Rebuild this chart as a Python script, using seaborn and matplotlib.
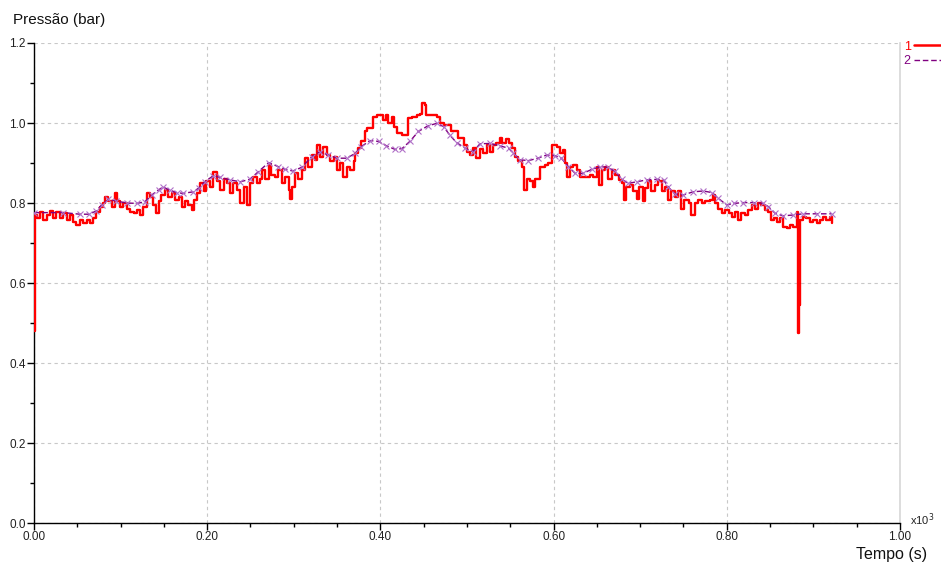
import pandas as pd
import matplotlib.pyplot as plt
import seaborn as sns
from matplotlib.lines import Line2D
from matplotlib.ticker import AutoMinorLocator, FormatStrFormatter

sns.set_theme(style="white")
plt.rcParams['font.family'] = ['Liberation Sans', 'DejaVu Sans']

# time in units of 10^3 s, pressure in bar
t1 = [0.000, 0.001, 0.003, 0.007, 0.011, 0.015, 0.018, 0.022, 0.026, 0.030,
      0.034, 0.038, 0.042, 0.045, 0.049, 0.053, 0.057, 0.061, 0.065, 0.068,
      0.072, 0.076, 0.080, 0.082, 0.086, 0.090, 0.094, 0.096, 0.099, 0.103,
      0.107, 0.111, 0.115, 0.119, 0.122, 0.126, 0.130, 0.134, 0.138, 0.141,
      0.144, 0.147, 0.151, 0.155, 0.159, 0.163, 0.167, 0.171, 0.174, 0.178,
      0.182, 0.185, 0.188, 0.192, 0.196, 0.199, 0.203, 0.207, 0.211, 0.215,
      0.219, 0.223, 0.226, 0.230, 0.234, 0.238, 0.242, 0.246, 0.249, 0.253,
      0.257, 0.261, 0.263, 0.267, 0.271, 0.274, 0.278, 0.282, 0.286, 0.290,
      0.294, 0.296, 0.298, 0.301, 0.305, 0.309, 0.313, 0.317, 0.321, 0.324,
      0.327, 0.330, 0.334, 0.338, 0.342, 0.346, 0.350, 0.353, 0.357, 0.361,
      0.365, 0.369, 0.371, 0.374, 0.378, 0.382, 0.384, 0.388, 0.392, 0.396,
      0.400, 0.403, 0.406, 0.409, 0.413, 0.416, 0.419, 0.425, 0.430, 0.432,
      0.436, 0.442, 0.446, 0.448, 0.452, 0.453, 0.459, 0.465, 0.469, 0.473,
      0.478, 0.482, 0.486, 0.490, 0.494, 0.496, 0.500, 0.503, 0.507, 0.511,
      0.515, 0.519, 0.523, 0.527, 0.530, 0.534, 0.538, 0.541, 0.545, 0.548,
      0.552, 0.555, 0.559, 0.563, 0.566, 0.569, 0.573, 0.576, 0.579, 0.582,
      0.584, 0.590, 0.594, 0.598, 0.604, 0.607, 0.611, 0.613, 0.616, 0.619,
      0.623, 0.627, 0.630, 0.634, 0.638, 0.642, 0.646, 0.650, 0.652, 0.656,
      0.659, 0.663, 0.667, 0.671, 0.675, 0.679, 0.681, 0.684, 0.688, 0.692,
      0.696, 0.699, 0.703, 0.706, 0.709, 0.713, 0.717, 0.721, 0.725, 0.729,
      0.732, 0.736, 0.740, 0.744, 0.747, 0.751, 0.756, 0.759, 0.763, 0.767,
      0.771, 0.775, 0.781, 0.784, 0.786, 0.790, 0.794, 0.798, 0.802, 0.806,
      0.809, 0.813, 0.817, 0.821, 0.825, 0.829, 0.833, 0.836, 0.840, 0.844,
      0.848, 0.851, 0.854, 0.858, 0.861, 0.865, 0.869, 0.873, 0.877, 0.881,
      0.882, 0.883, 0.885, 0.888, 0.892, 0.896, 0.900, 0.904, 0.908, 0.911,
      0.915, 0.919, 0.922]
p1 = [0.48, 0.77, 0.762, 0.778, 0.758, 0.770, 0.781, 0.762, 0.778, 0.762,
      0.774, 0.758, 0.770, 0.753, 0.745, 0.758, 0.749, 0.758, 0.749, 0.762,
      0.778, 0.791, 0.799, 0.816, 0.804, 0.791, 0.824, 0.804, 0.791, 0.799,
      0.786, 0.778, 0.774, 0.783, 0.770, 0.791, 0.824, 0.816, 0.795, 0.774,
      0.804, 0.820, 0.833, 0.816, 0.824, 0.808, 0.816, 0.791, 0.804, 0.795,
      0.783, 0.808, 0.824, 0.849, 0.829, 0.854, 0.841, 0.878, 0.854, 0.833,
      0.861, 0.849, 0.824, 0.849, 0.833, 0.799, 0.841, 0.795, 0.849, 0.866,
      0.849, 0.861, 0.883, 0.861, 0.895, 0.870, 0.866, 0.883, 0.849, 0.866,
      0.833, 0.811, 0.841, 0.874, 0.861, 0.883, 0.912, 0.891, 0.920, 0.908,
      0.945, 0.916, 0.941, 0.920, 0.904, 0.916, 0.883, 0.899, 0.866, 0.891,
      0.883, 0.904, 0.924, 0.937, 0.954, 0.979, 0.987, 0.987, 1.016, 1.020,
      1.020, 1.008, 1.020, 0.999, 1.016, 0.991, 0.974, 0.970, 0.970, 1.012,
      1.016, 1.020, 1.023, 1.049, 1.045, 1.020, 1.020, 1.016, 0.999, 0.995,
      0.995, 0.979, 0.979, 0.962, 0.962, 0.945, 0.928, 0.920, 0.937, 0.912,
      0.935, 0.924, 0.945, 0.928, 0.945, 0.949, 0.962, 0.949, 0.960, 0.949,
      0.937, 0.916, 0.904, 0.891, 0.833, 0.861, 0.854, 0.841, 0.861, 0.861,
      0.891, 0.895, 0.899, 0.945, 0.941, 0.924, 0.933, 0.899, 0.866, 0.891,
      0.895, 0.883, 0.866, 0.866, 0.866, 0.870, 0.866, 0.891, 0.845, 0.883,
      0.891, 0.861, 0.883, 0.870, 0.858, 0.849, 0.808, 0.841, 0.845, 0.829,
      0.811, 0.841, 0.804, 0.837, 0.854, 0.829, 0.845, 0.854, 0.829, 0.841,
      0.808, 0.829, 0.816, 0.829, 0.786, 0.808, 0.799, 0.770, 0.799, 0.808,
      0.799, 0.804, 0.808, 0.820, 0.799, 0.786, 0.774, 0.783, 0.774, 0.766,
      0.778, 0.758, 0.774, 0.770, 0.783, 0.795, 0.786, 0.799, 0.795, 0.783,
      0.778, 0.758, 0.762, 0.753, 0.762, 0.741, 0.737, 0.745, 0.741, 0.778,
      0.475, 0.545, 0.758, 0.766, 0.762, 0.753, 0.758, 0.749, 0.758, 0.766,
      0.758, 0.766, 0.751]

t2 = [0.000, 0.034, 0.053, 0.063, 0.072, 0.078, 0.086, 0.095, 0.107, 0.119,
      0.128, 0.136, 0.144, 0.149, 0.157, 0.165, 0.172, 0.184, 0.190, 0.197,
      0.207, 0.215, 0.226, 0.238, 0.249, 0.259, 0.271, 0.282, 0.290, 0.299,
      0.309, 0.321, 0.330, 0.340, 0.350, 0.361, 0.371, 0.378, 0.388, 0.398,
      0.407, 0.417, 0.425, 0.434, 0.444, 0.455, 0.465, 0.473, 0.480, 0.488,
      0.498, 0.507, 0.515, 0.527, 0.538, 0.548, 0.553, 0.561, 0.571, 0.582,
      0.592, 0.602, 0.609, 0.617, 0.625, 0.634, 0.644, 0.654, 0.663, 0.671,
      0.679, 0.686, 0.696, 0.708, 0.719, 0.727, 0.732, 0.740, 0.750, 0.761,
      0.773, 0.783, 0.790, 0.800, 0.808, 0.819, 0.831, 0.842, 0.848, 0.856,
      0.865, 0.877, 0.888, 0.904, 0.921]
p2 = [0.776, 0.776, 0.772, 0.772, 0.780, 0.795, 0.809, 0.805, 0.800, 0.799,
      0.803, 0.820, 0.833, 0.840, 0.832, 0.826, 0.824, 0.828, 0.837, 0.853,
      0.868, 0.864, 0.858, 0.853, 0.859, 0.878, 0.901, 0.891, 0.884, 0.880,
      0.889, 0.916, 0.928, 0.920, 0.912, 0.912, 0.924, 0.941, 0.956, 0.954,
      0.943, 0.934, 0.936, 0.954, 0.979, 0.993, 0.999, 0.991, 0.970, 0.951,
      0.937, 0.928, 0.948, 0.949, 0.943, 0.937, 0.926, 0.908, 0.906, 0.912,
      0.920, 0.918, 0.912, 0.891, 0.874, 0.874, 0.884, 0.891, 0.889, 0.879,
      0.859, 0.849, 0.853, 0.858, 0.859, 0.858, 0.841, 0.823, 0.820, 0.828,
      0.830, 0.826, 0.812, 0.795, 0.799, 0.801, 0.801, 0.799, 0.791, 0.774,
      0.768, 0.770, 0.773, 0.773, 0.773]

df1 = pd.DataFrame({"t": t1, "p": p1})
df2 = pd.DataFrame({"t": t2, "p": p2})

red = "#ff0000"
purple = "#800080"

fig = plt.figure(figsize=(9.41, 5.65), dpi=100)
ax = fig.add_axes([0.0361, 0.0743, 0.9203, 0.8496])

sns.lineplot(data=df1, x="t", y="p", ax=ax, color=red, linewidth=1.7,
             drawstyle="steps-post", estimator=None, sort=False, zorder=3)
sns.lineplot(data=df2, x="t", y="p", ax=ax, color=purple, linewidth=1.0,
             linestyle=(0, (4, 2)), marker="x", markersize=4,
             markeredgewidth=0.8, markeredgecolor="#b070c8",
             estimator=None, sort=False, zorder=4)

ax.set_xlim(0, 1.0)
ax.set_ylim(0, 1.2)
ax.set_xticks([0, 0.2, 0.4, 0.6, 0.8, 1.0])
ax.set_yticks([0, 0.2, 0.4, 0.6, 0.8, 1.0, 1.2])
ax.xaxis.set_major_formatter(FormatStrFormatter("%.2f"))
ax.yaxis.set_major_formatter(FormatStrFormatter("%.1f"))
ax.xaxis.set_minor_locator(AutoMinorLocator(4))
ax.yaxis.set_minor_locator(AutoMinorLocator(2))
ax.tick_params(axis="both", which="major", direction="out", length=5,
               width=1, color="black", labelsize=8.5, pad=1, labelcolor="#222222")
ax.tick_params(axis="both", which="minor", direction="out", length=3,
               width=1, color="black")
ax.tick_params(axis="x", bottom=True, which="both")
ax.tick_params(axis="y", left=True, which="both")

ax.grid(True, which="major", linestyle=(0, (3, 3)), color="#c8c8c8", linewidth=0.8)
ax.set_axisbelow(True)
ax.spines["top"].set_visible(False)
ax.spines["right"].set_color("#d8d8d8")
ax.spines["left"].set_color("black")
ax.spines["bottom"].set_color("black")
ax.spines["left"].set_linewidth(1)
ax.spines["bottom"].set_linewidth(1)
ax.set_xlabel("")
ax.set_ylabel("")

fig.text(0.014, 0.965, "Pressão (bar)", fontsize=11, ha="left", va="center", color="#111111")
fig.text(0.985, 0.018, "Tempo (s)", fontsize=11.5, ha="right", va="center", color="#111111")
fig.text(0.967, 0.080, r"x10$^3$", fontsize=8, ha="left", va="center", color="#222222")

handles = [Line2D([], [], color=red, linewidth=1.8),
           Line2D([], [], color=purple, linewidth=1.0, linestyle=(0, (4, 2)))]
leg = ax.legend(handles, ["1", "2"], loc="upper left", bbox_to_anchor=(0.9985, 1.015),
                frameon=False, markerfirst=False, handlelength=2.8, handletextpad=0.3,
                labelspacing=0.2, fontsize=9, borderaxespad=0)
for txt, c in zip(leg.get_texts(), [red, purple]):
    txt.set_color(c)

fig.savefig("out.png", dpi=100)
